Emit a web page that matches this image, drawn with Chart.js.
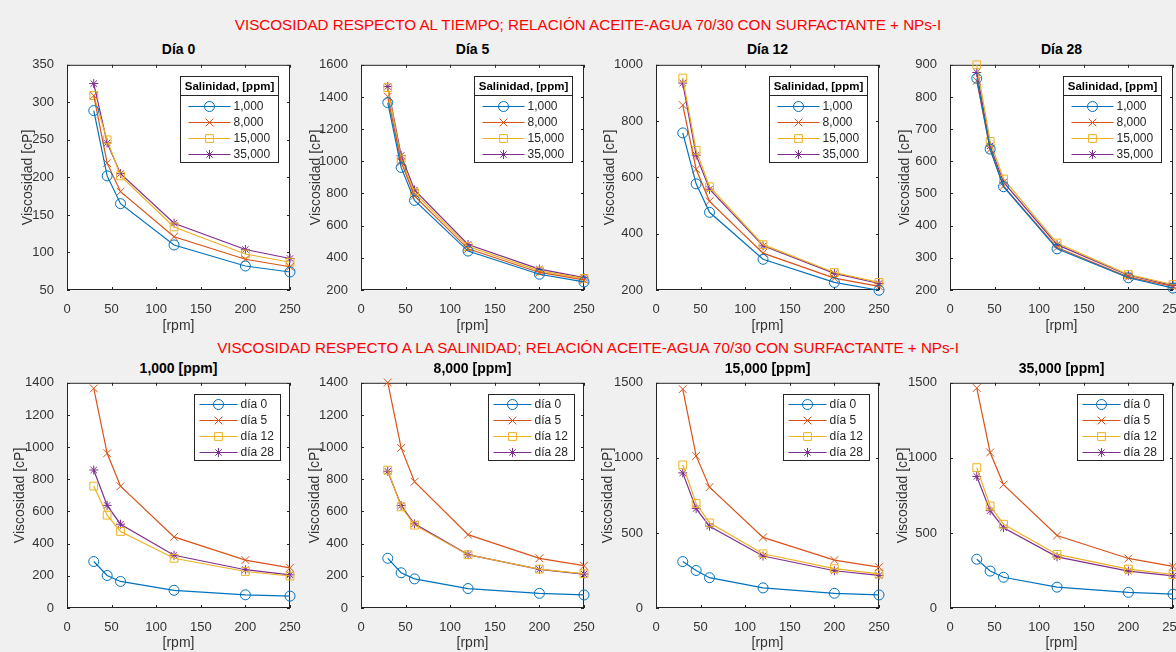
<!DOCTYPE html>
<html>
<head>
<meta charset="utf-8">
<script src="https://cdn.jsdelivr.net/npm/chart.js@4.4.1/dist/chart.umd.min.js"></script>
<style>
  body { margin: 0; width: 1176px; height: 652px; overflow: hidden; background: #f0f0f0; position: relative;
         font-family: "Liberation Sans", Arial, sans-serif; }
  canvas { position: absolute; }
  .tit { position: absolute; left: 0; width: 1176px; text-align: center; color: #ff0000; font-size: 15.2px; line-height: 18px; white-space: nowrap; }
  .sub { position: absolute; width: 223px; text-align: center; font-weight: bold; font-size: 14px; line-height: 16px; color: #000; }
</style>
</head>
<body>
<div class="tit" style="top:16px">VISCOSIDAD RESPECTO AL TIEMPO; RELACIÓN ACEITE-AGUA 70/30 CON SURFACTANTE + NPs-I</div>
<div class="tit" style="top:339px">VISCOSIDAD RESPECTO A LA SALINIDAD; RELACIÓN ACEITE-AGUA 70/30 CON SURFACTANTE + NPs-I</div>
<script>
// Datos
const rpm = [30, 45, 60, 120, 200, 250];
const salinidades = ['1,000', '8,000', '15,000', '35,000'];
const dias = ['día 0', 'día 5', 'día 12', 'día 28'];
const titulosDia = ['Día 0', 'Día 5', 'Día 12', 'Día 28'];
const titulosSal = ['1,000 [ppm]', '8,000 [ppm]', '15,000 [ppm]', '35,000 [ppm]'];

// viscosidad [cP], una fila por salinidad (1,000 / 8,000 / 15,000 / 35,000)
const dia0 = [
  [289, 202, 165, 110, 82, 74],
  [309, 219, 181, 121, 91, 81],
  [309, 250, 202, 134, 98, 87],
  [325, 246, 205, 139, 104, 92]
];
const dia5 = [
  [1365, 962, 757, 442, 298, 250],
  [1402, 995, 785, 456, 309, 263],
  [1458, 1013, 805, 470, 319, 272],
  [1465, 1036, 822, 483, 330, 277]
];
const dia12 = [
  [758, 577, 476, 309, 227, 199],
  [857, 629, 515, 331, 242, 213],
  [953, 696, 567, 361, 262, 227],
  [935, 679, 558, 357, 259, 223]
];
const dia28 = [
  [858, 638, 521, 328, 238, 206],
  [850, 637, 523, 332, 240, 211],
  [900, 662, 545, 346, 248, 217],
  [876, 648, 535, 341, 246, 214]
];
const porDia = [dia0, dia5, dia12, dia28];

// eje y: [min, max, paso]
const ejeDia = [[50, 350, 50], [200, 1600, 200], [200, 1000, 200], [200, 900, 100]];
const ejeSal = [[0, 1400, 200], [0, 1400, 200], [0, 1500, 500], [0, 1500, 500]];

//Estilo
const colores = ['#0072BD', '#D95319', '#EDB120', '#7E2F8E'];
const marcas = ['circle', 'crossRot', 'rect', 'star'];
const radios = [5, 5.5, 5.5, 4.5];
const FUENTE = '"Liberation Sans", Arial, sans-serif';
const TXT = '#333333';

const PAD_T = 10, PAD_R = 18, Y_W = 67, X_H = 48, ANCHO = 223, ALTO = 228;
const izq = [67, 361, 656, 950];
const arriba = [62, 380];
const padYt = [[19.6, 13.6, 12.6, 13.6], [11.6, 12.6, 10.6, 11.6]];
const padXt = [3.6, 4.6];

const marco = {
  id: 'marco',
  beforeDraw(chart) {
    const a = chart.chartArea, ctx = chart.ctx;
    ctx.save();
    ctx.fillStyle = '#ffffff';
    ctx.fillRect(a.left, a.top, a.right - a.left, a.bottom - a.top);
    ctx.restore();
  },
  beforeDatasetsDraw(chart) {
    const a = chart.chartArea, ctx = chart.ctx;
    ctx.save();
    ctx.strokeStyle = '#262626';
    ctx.lineWidth = 1;
    ctx.strokeRect(a.left + 0.5, a.top + 0.5, a.right - a.left - 1, a.bottom - a.top - 1);
    ctx.beginPath();
    const sx = chart.scales.x, sy = chart.scales.y;
    sx.ticks.forEach(t => {
      const px = Math.round(sx.getPixelForValue(t.value)) + 0.5;
      ctx.moveTo(px, a.bottom); ctx.lineTo(px, a.bottom - 3);
      ctx.moveTo(px, a.top); ctx.lineTo(px, a.top + 3);
    });
    sy.ticks.forEach(t => {
      const py = Math.round(sy.getPixelForValue(t.value)) + 0.5;
      ctx.moveTo(a.left, py); ctx.lineTo(a.left + 3, py);
      ctx.moveTo(a.right, py); ctx.lineTo(a.right - 3, py);
    });
    ctx.stroke();
    ctx.restore();
  }
};

const leyenda = {
  id: 'leyenda',
  afterDraw(chart, args, opts) {
    const ctx = chart.ctx, a = chart.chartArea;
    const conTitulo = !!opts.titulo;
    const w = opts.ancho, h = conTitulo ? 86 : 66;
    const x0 = Math.round(a.right - (conTitulo ? 12 : 10) - w) + 0.5;
    const y0 = Math.round(a.top + 11) + 0.5;
    ctx.save();
    ctx.fillStyle = '#ffffff';
    ctx.fillRect(x0, y0, w, h);
    ctx.strokeStyle = '#262626';
    ctx.lineWidth = 1;
    ctx.strokeRect(x0, y0, w, h);
    let yIni = y0 + 10, lx0 = x0 + 5, lx1 = x0 + 43, tx = x0 + 46;
    if (conTitulo) {
      ctx.font = 'bold 11.5px ' + FUENTE;
      ctx.fillStyle = '#000';
      ctx.textAlign = 'center';
      ctx.textBaseline = 'middle';
      ctx.fillText(opts.titulo, x0 + w / 2, y0 + 10);
      ctx.beginPath();
      ctx.moveTo(x0, y0 + 19); ctx.lineTo(x0 + w, y0 + 19);
      ctx.stroke();
      yIni = y0 + 30; lx0 = x0 + 8; lx1 = x0 + 50; tx = x0 + 53;
    }
    ctx.font = '12px ' + FUENTE;
    ctx.textAlign = 'left';
    ctx.textBaseline = 'middle';
    chart.data.datasets.forEach((ds, i) => {
      const y = yIni + 16 * i;
      ctx.strokeStyle = ds.borderColor;
      ctx.lineWidth = ds.borderWidth;
      ctx.beginPath();
      ctx.moveTo(lx0, y); ctx.lineTo(lx1, y);
      ctx.stroke();
      ctx.lineWidth = 1;
      ctx.fillStyle = 'rgba(0,0,0,0)';
      Chart.helpers.drawPoint(ctx, {pointStyle: ds.pointStyle, radius: ds.pointRadius, rotation: 0, borderWidth: 1}, (lx0 + lx1) / 2, y);
      ctx.fillStyle = '#262626';
      ctx.fillText(ds.label, tx, y + 0.5);
    });
    ctx.restore();
  }
};

function panel(fila, col, series, etiquetas, eje, titulo, leyOpts) {
  const left = izq[col], top = arriba[fila];
  const sub = document.createElement('div');
  sub.className = 'sub';
  sub.style.left = left + 'px';
  sub.style.top = (fila === 0 ? 41 : 360) + 'px';
  sub.textContent = titulo;
  document.body.appendChild(sub);

  const c = document.createElement('canvas');
  c.width = Y_W + ANCHO + PAD_R;
  c.height = PAD_T + ALTO + X_H;
  c.style.left = (left - Y_W) + 'px';
  c.style.top = (top - PAD_T) + 'px';
  document.body.appendChild(c);

  new Chart(c, {
    type: 'line',
    data: {
      datasets: series.map((s, i) => ({
        label: etiquetas[i],
        data: rpm.map((x, j) => ({x: x, y: s[j]})),
        borderColor: colores[i],
        backgroundColor: 'rgba(0,0,0,0)',
        pointBackgroundColor: 'rgba(0,0,0,0)',
        pointBorderColor: colores[i],
        pointBorderWidth: 1,
        pointStyle: marcas[i],
        pointRadius: radios[i],
        borderWidth: 1.2,
        tension: 0,
        clip: false
      }))
    },
    options: {
      responsive: false,
      animation: false,
      events: [],
      layout: {padding: {left: 0, right: PAD_R, top: PAD_T, bottom: 0}},
      plugins: {legend: {display: false}, tooltip: {enabled: false}, leyenda: leyOpts},
      scales: {
        x: {
          type: 'linear', min: 0, max: 250,
          ticks: {stepSize: 50, padding: 4, color: TXT, font: {size: 13, family: FUENTE}, callback: v => String(v)},
          grid: {display: false}, border: {display: false},
          title: {display: true, text: '[rpm]', color: TXT, font: {size: 14, family: FUENTE}, padding: {top: 0, bottom: padXt[fila]}},
          afterFit: s => { s.height = X_H; }
        },
        y: {
          type: 'linear', min: eje[0], max: eje[1],
          ticks: {stepSize: eje[2], padding: 5, color: TXT, font: {size: 13, family: FUENTE}, callback: v => String(v)},
          grid: {display: false}, border: {display: false},
          title: {display: true, text: 'Viscosidad [cP]', color: TXT, font: {size: 14, family: FUENTE}, padding: {top: padYt[fila][col], bottom: 0}},
          afterFit: s => { s.width = Y_W; }
        }
      }
    },
    plugins: [marco, leyenda]
  });
}

// fila de arriba: una grafica por dia
for (let d = 0; d < 4; d++) {
  panel(0, d, porDia[d], salinidades, ejeDia[d], titulosDia[d], {titulo: 'Salinidad, [ppm]', ancho: 98});
}
// fila de abajo: una grafica por salinidad
for (let s = 0; s < 4; s++) {
  const series = porDia.map(dia => dia[s]);
  panel(1, s, series, dias, ejeSal[s], titulosSal[s], {titulo: null, ancho: 86});
}
</script>
</body>
</html>
